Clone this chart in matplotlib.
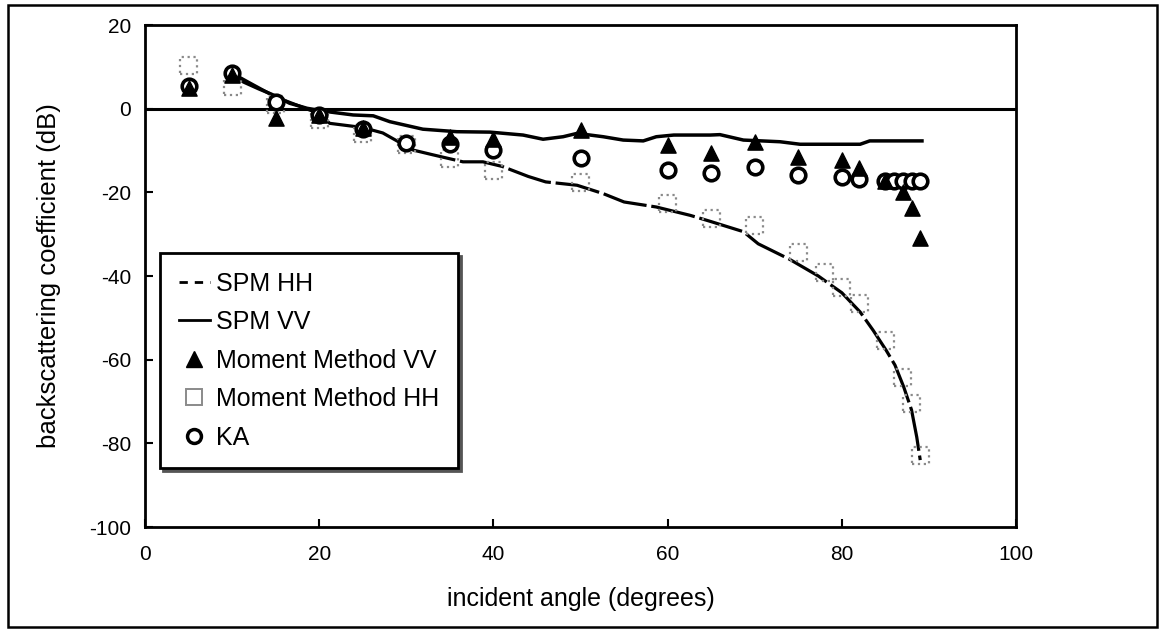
import matplotlib
matplotlib.use("Agg")
import matplotlib.pyplot as plt
from matplotlib.lines import Line2D
from matplotlib.patches import Rectangle

plt.rcParams["font.family"] = ["Liberation Sans", "DejaVu Sans"]
plt.rcParams["axes.unicode_minus"] = False

spm_vv_x = [10, 11.3, 13, 14.7, 16.6, 18.6, 20.9, 23.9, 26.2, 28.1, 31.9, 35.8, 39.6,
            43.4, 45.7, 48, 49.6, 52.6, 54.9, 57.2, 58.7, 60.7, 64.9, 66, 68.7, 72.9,
            75.2, 82.1, 83.2, 89.2]
spm_vv_y = [8.5, 6.4, 4.8, 3.3, 1.3, 0.1, -0.7, -1.5, -1.7, -3.1, -4.9, -5.5, -5.6,
            -6.3, -7.3, -6.7, -5.9, -6.7, -7.5, -7.7, -6.7, -6.3, -6.3, -6.2, -7.5, -7.9,
            -8.5, -8.5, -7.7, -7.7]

spm_hh_x = [10, 12, 15, 18, 20, 21.2, 25, 27.3, 30.8, 33, 36.5, 38.8, 41, 44, 46, 49.6,
            52.6, 55, 58.7, 62.6, 65, 68.7, 70.4, 74, 77.3, 80, 82.1, 83.6, 85.1, 86.1,
            87.1, 88, 88.6, 89]
spm_hh_y = [8.5, 6.2, 2.8, 0.4, -1.2, -3.5, -4.5, -5.8, -9.9, -11, -12.7, -12.7, -13.8,
            -16.2, -17.5, -18.3, -20.3, -22.3, -23.5, -25.5, -27, -29.4, -32.3, -36,
            -40, -44, -48.6, -53, -57.8, -61.3, -66.5, -72, -78.5, -84]

# Moment method VV
mm_vv_x = [5, 10, 15, 20, 25, 35, 40, 50, 60, 65, 70, 75, 80, 82, 85, 87, 88, 89]
mm_vv_y = [5, 8, -2.3, -1.5, -4.5, -6.8, -7.2, -5.1, -8.7, -10.6, -8, -11.6, -12.3,
           -14.2, -17.3, -20, -23.8, -31]

# Moment method HH
mm_hh_x = [5, 10, 15, 20, 25, 30, 35, 40, 50, 60, 65, 70, 75, 78, 80, 82, 85, 87, 88, 89]
mm_hh_y = [10.4, 5.2, 1, -2.5, -6, -8.5, -11.8, -14.7, -17.6, -22.6, -26.2, -27.9,
           -34.3, -39.1, -42.7, -46.5, -55.4, -64.2, -70.4, -82.9]

# Kirchhoff approximation
ka_x = [5, 10, 15, 20, 25, 30, 35, 40, 50, 60, 65, 70, 75, 80, 82, 85, 86, 87, 88, 89]
ka_y = [5.5, 8.5, 1.6, -1.5, -4.8, -8.2, -8.4, -9.9, -11.8, -14.7, -15.4, -14, -15.9,
        -16.4, -16.9, -17.3, -17.3, -17.3, -17.3, -17.3]

fig = plt.figure(figsize=(11.62, 6.32), dpi=100)
ax = fig.add_axes([0.1248, 0.1661, 0.7496, 0.7943])

# outer frame around the whole figure
fig.patches.append(Rectangle((0.007, 0.008), 0.989, 0.984, transform=fig.transFigure,
                             fill=False, edgecolor="black", linewidth=1.8))

ax.axhline(0, color="black", lw=2.2, zorder=1)
ax.plot(spm_hh_x, spm_hh_y, color="black", lw=2.3, linestyle=(0, (14, 1.5)), zorder=2)
ax.plot(spm_vv_x, spm_vv_y, color="black", lw=2.5, zorder=2)
ax.scatter(mm_hh_x, mm_hh_y, marker="s", s=150, facecolors="none",
           edgecolors="#8a8a8a", linewidths=1.6, linestyle=":", zorder=3)
ax.scatter(ka_x, ka_y, marker="o", s=110, facecolors="white", edgecolors="black",
           linewidths=2.6, zorder=4)
ax.scatter(mm_vv_x, mm_vv_y, marker="^", s=120, color="black", zorder=5)

ax.set_xlim(0, 100)
ax.set_ylim(-100, 20)
ax.set_xticks([0, 20, 40, 60, 80, 100])
ax.set_yticks([-100, -80, -60, -40, -20, 0, 20])
ax.tick_params(direction="in", length=6, width=1.5, labelsize=15)
ax.tick_params(axis="x", pad=13)
ax.tick_params(axis="y", pad=10)
for sp in ax.spines.values():
    sp.set_linewidth(2)

ax.set_xlabel("incident angle (degrees)", fontsize=18)
ax.set_ylabel("backscattering coefficient (dB)", fontsize=18.5)
ax.xaxis.set_label_coords(0.5, -0.12)
ax.yaxis.set_label_coords(-0.097, 0.5)

handles = [
    Line2D([0], [0], color="black", lw=2, linestyle=(0, (3, 2.5))),
    Line2D([0], [0], color="black", lw=2),
    Line2D([0], [0], marker="^", color="black", lw=0, markersize=11),
    Line2D([0], [0], marker="s", color="none", markerfacecolor="none",
           markeredgecolor="#8a8a8a", markeredgewidth=1.4, lw=0, markersize=11),
    Line2D([0], [0], marker="o", color="black", markerfacecolor="white",
           markeredgewidth=2.5, lw=0, markersize=10),
]
labels = ["SPM HH", "SPM VV", "Moment Method VV", "Moment Method HH", "KA"]
leg = ax.legend(handles, labels, loc="upper left", bbox_to_anchor=(0.017, 0.546),
                borderaxespad=0, fontsize=18, frameon=True, fancybox=False,
                shadow={"color": "#555", "alpha": 1},
                handlelength=1.25, handletextpad=0.25, labelspacing=0.58, borderpad=0.75)
leg.get_frame().set_edgecolor("black")
leg.get_frame().set_linewidth(2)
leg.get_frame().set_alpha(1)

fig.savefig("out.png", dpi=100)
